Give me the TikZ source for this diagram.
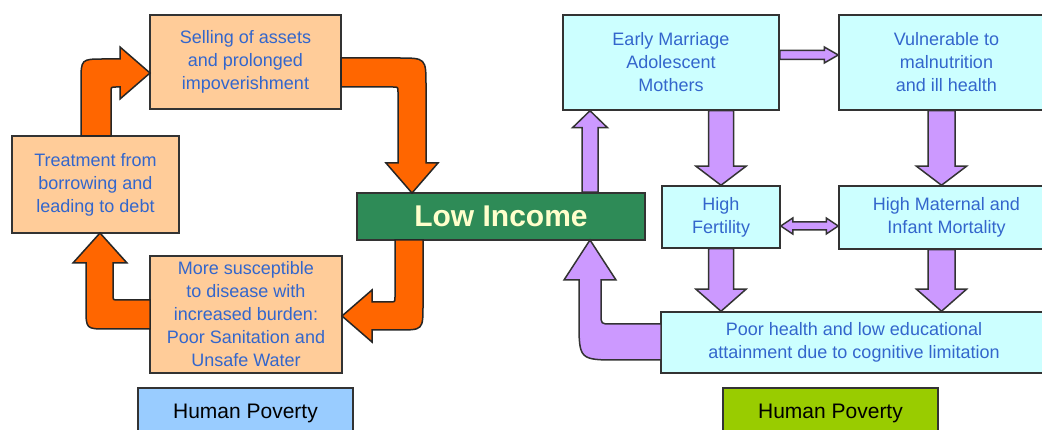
\documentclass[tikz,border=0pt]{standalone}
\usepackage{fontspec}
\setmainfont{Liberation Sans}
\usetikzlibrary{calc}
\definecolor{peach}{HTML}{FFCC99}
\definecolor{lcyan}{HTML}{CCFFFF}
\definecolor{lgreen}{HTML}{2E8B57}
\definecolor{txtblue}{HTML}{3366CC}
\definecolor{orng}{HTML}{FF6600}
\definecolor{purp}{HTML}{CC99FF}
\definecolor{hpblue}{HTML}{99CCFF}
\definecolor{hpgreen}{HTML}{99CC00}
\definecolor{lowtxt}{HTML}{FFFFCC}
\definecolor{edge}{HTML}{333333}
% #1 style, #2 from, #3 tip, #4 ux, #5 uy, #6 shaft half width, #7 head half width, #8 head length
\newcommand\blockarrow[8]{%
  \draw[#1] ($(#2)+({-(#5)*(#6)},{(#4)*(#6)})$)
    -- ($(#3)+({-(#4)*(#8)-(#5)*(#6)},{-(#5)*(#8)+(#4)*(#6)})$)
    -- ($(#3)+({-(#4)*(#8)-(#5)*(#7)},{-(#5)*(#8)+(#4)*(#7)})$)
    -- (#3)
    -- ($(#3)+({-(#4)*(#8)+(#5)*(#7)},{-(#5)*(#8)-(#4)*(#7)})$)
    -- ($(#3)+({-(#4)*(#8)+(#5)*(#6)},{-(#5)*(#8)-(#4)*(#6)})$)
    -- ($(#2)+({(#5)*(#6)},{-(#4)*(#6)})$) -- cycle;}
% horizontal double arrow: #1 style, #2 left tip, #3 right tip, #4 shaft half, #5 head half, #6 head length
\newcommand\dblarrow[6]{%
  \draw[#1] (#2) -- ($(#2)+(#6,-#5)$) -- ($(#2)+(#6,-#4)$) -- ($(#3)+(-#6,-#4)$)
    -- ($(#3)+(-#6,-#5)$) -- (#3) -- ($(#3)+(-#6,#5)$) -- ($(#3)+(-#6,#4)$)
    -- ($(#2)+(#6,#4)$) -- ($(#2)+(#6,#5)$) -- cycle;}
\begin{document}
\begin{tikzpicture}[x=1pt,y=-1pt,
  box/.style={draw=edge, line width=1.5pt, inner sep=0pt, align=center, text=txtblue,
    font=\fontsize{18}{23}\selectfont},
  pbox/.style={box, fill=peach},
  cbox/.style={box, fill=lcyan},
  hpbox/.style={draw=edge, line width=1.5pt, inner sep=0pt, minimum width=215pt,
    minimum height=50pt, font=\fontsize{21}{25}\selectfont, text=black},
  lowbox/.style={draw=edge, line width=1.5pt, fill=lgreen, inner sep=0pt, text=lowtxt,
    font=\fontsize{30}{36}\selectfont\bfseries},
  oarr/.style={draw=black!85, line width=1.5pt, fill=orng, line join=miter},
  parr/.style={draw=edge, line width=1.5pt, fill=purp, line join=miter},
]
\useasboundingbox (0,0) rectangle (1042,430);
\fill[white] (0,0) rectangle (1042,430);

% left cycle boxes
\node[pbox, minimum width=191pt, minimum height=94pt] (sell) at (245.5,62) {Selling of assets\\and prolonged\\impoverishment};
\node[pbox, minimum width=167pt, minimum height=97pt] (treat) at (95.5,184.5) {Treatment from\\borrowing and\\leading to debt};
\node[pbox, minimum width=192pt, minimum height=117pt] (sus) at (246,314.5) {More susceptible\\to disease with\\increased burden:\\Poor Sanitation and\\Unsafe Water};
\node[hpbox, fill=hpblue] (hpl) at (245.5,413) {Human Poverty};

% centre
\node[lowbox, minimum width=288pt, minimum height=47pt] (low) at (501,216.5) {Low Income};

% right boxes
\node[cbox, minimum width=216pt, minimum height=95pt] (em) at (671,62.5) {Early Marriage\\Adolescent\\Mothers};
\node[cbox, minimum width=215pt, minimum height=95pt] (vul) at (946.5,62.5) {Vulnerable to\\malnutrition\\and ill health};
\node[cbox, minimum width=118pt, minimum height=62pt] (hf) at (721,217) {High\\Fertility};
\node[cbox, minimum width=215pt, minimum height=63pt] (hm) at (946.5,217.5) {High Maternal and\\Infant Mortality};
\node[cbox, minimum width=386pt, minimum height=61pt] (poor) at (854,342.5) {Poor health and low educational\\attainment due to cognitive limitation};
\node[hpbox, fill=hpgreen] (hpr) at (830.5,413) {Human Poverty};

% orange bent arrows (left cycle)
\draw[oarr] (81,136) -- (81,82) .. controls (81,59) .. (104,59) -- (120,59) -- (120,47)
  -- (150,73) -- (120,99) -- (120,87) -- (116,87) .. controls (111,87) .. (111,92) -- (111,136) -- cycle;
\draw[oarr] (341,58) -- (398,58) .. controls (426,58) .. (426,86) -- (426,163) -- (438,163)
  -- (412,193) -- (386,163) -- (398,163) -- (398,92) .. controls (398,87) .. (393,87) -- (341,87) -- cycle;
\draw[oarr] (395,240) -- (423,240) -- (423,305) .. controls (423,330) .. (398,330) -- (372,330)
  -- (372,342) -- (342,316) -- (372,290) -- (372,302) -- (390,302) .. controls (395,302) .. (395,297) -- cycle;
\draw[oarr] (150,300) -- (118,300) .. controls (113,300) .. (113,295) -- (113,263) -- (127,263)
  -- (100,233) -- (73,263) -- (86,263) -- (86,308) .. controls (86,329) .. (107,329) -- (150,329) -- cycle;

% purple arrows
\coordinate (a5s) at (low.north -| 590,0);
\coordinate (a5e) at (em.south -| a5s);
\blockarrow{parr}{a5s}{a5e}{0}{-1}{8}{17.5}{17}
\coordinate (a6s) at ($(em.east)+(0,-7.5)$);
\coordinate (a6e) at (vul.west |- a6s);
\blockarrow{parr}{a6s}{a6e}{1}{0}{4.5}{8}{14}
\coordinate (a7s) at (em.south -| hf.north);
\coordinate (a7e) at (hf.north);
\blockarrow{parr}{a7s}{a7e}{0}{1}{12.5}{25}{19}
\coordinate (a8s) at ($(vul.south)+(-5,0)$);
\coordinate (a8e) at (hm.north -| a8s);
\blockarrow{parr}{a8s}{a8e}{0}{1}{13.5}{25}{19}
\coordinate (a9l) at ($(hf.east)+(0,9)$);
\coordinate (a9r) at (hm.west |- a9l);
\dblarrow{parr}{a9l}{a9r}{4}{8}{12}
\coordinate (a10s) at (hf.south);
\coordinate (a10e) at (poor.north -| a10s);
\blockarrow{parr}{a10s}{a10e}{0}{1}{12.5}{25}{22}
\coordinate (a11s) at ($(hm.south)+(-5,0)$);
\coordinate (a11e) at (poor.north -| a11s);
\blockarrow{parr}{a11s}{a11e}{0}{1}{13.5}{25}{22}
\draw[parr] (661,324) -- (611,324) .. controls (601,324) .. (601,314) -- (601,280) -- (616,280)
  -- (590,240) -- (564,280) -- (579,280) -- (579,320) .. controls (579,360) .. (619,360) -- (661,360) -- cycle;
\end{tikzpicture}
\end{document}
